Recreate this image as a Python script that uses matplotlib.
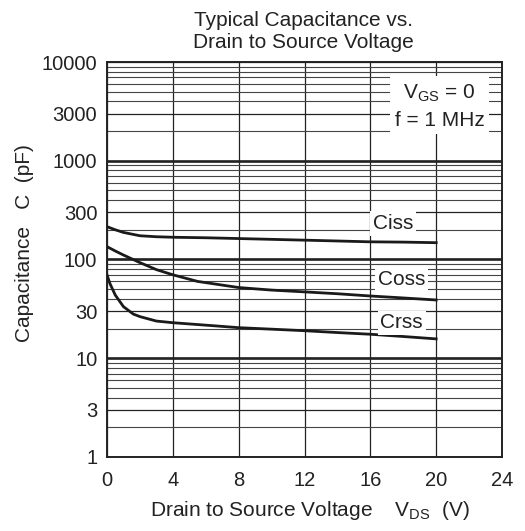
import matplotlib
matplotlib.use('Agg')
from matplotlib import pyplot as plt
from matplotlib.ticker import LogLocator, FixedLocator, NullFormatter

plt.rcParams['font.family'] = ['Liberation Sans', 'DejaVu Sans']
plt.rcParams['mathtext.fontset'] = 'custom'
plt.rcParams['mathtext.rm'] = 'Liberation Sans'

# values (V, pF)
cissV = [0, 0.5, 1, 2, 3, 4, 6, 8, 10, 12, 14, 16, 18, 20]
cissC = [215, 200, 188, 174, 170, 168, 166, 163, 160, 157, 154, 151, 150, 148]

cossV = [0, 0.5, 1, 2, 3, 4, 5.5, 8, 10, 12, 14, 16, 18, 20]
cossC = [135, 122, 111, 93, 79, 70, 60, 52, 49, 47, 45, 42.7, 40.8, 38.9]

crssV = [0, 0.18, 0.5, 1, 1.6, 2, 3, 4, 6.7, 8, 10, 12, 14, 16, 18, 20]
crssC = [70, 57, 43.7, 33.3, 28, 26.4, 23.8, 22.9, 21.2, 20.4, 19.7, 19, 18.2, 17.5, 16.6, 15.7]

xTicks = [0, 4, 8, 12, 16, 20, 24]
yTicks = [1, 3, 10, 30, 100, 300, 1000, 3000, 10000]
yTickLabels = ['1', '3', '10', '30', '100', '300', '1000', '3000', '10000']

txt = '#222222'

fig = plt.figure(figsize=(5.25, 5.31), dpi=100)
ax = fig.add_axes([0.2038, 0.1394, 0.7524, 0.7438])
ax.set_yscale('log')
ax.set_xlim(0, 24)
ax.set_ylim(1, 10000)

# grid
ax.yaxis.set_minor_locator(LogLocator(base=10, subs=range(2, 10), numticks=20))
ax.yaxis.set_minor_formatter(NullFormatter())
ax.yaxis.set_major_locator(FixedLocator(yTicks))
ax.set_yticklabels(yTickLabels)
ax.set_xticks(xTicks)
ax.grid(True, which='minor', axis='y', color='#444444', linewidth=0.8)
ax.grid(True, which='major', axis='both', color='#222222', linewidth=0.9)
for d in [10, 100, 1000]:
    ax.axhline(d, color='#111111', linewidth=1.8, zorder=1)
ax.tick_params(which='both', length=0, labelsize=14.5, colors=txt)
ax.tick_params(axis='y', pad=7)
ax.tick_params(axis='x', pad=10)
for s in ax.spines.values():
    s.set_linewidth(1.4)
    s.set_color('#222222')

ax.plot(cissV, cissC, color='#1a1a1a', linewidth=2.0, zorder=3)
ax.plot(cossV, cossC, color='#1a1a1a', linewidth=2.0, zorder=3)
ax.plot(crssV, crssC, color='#1a1a1a', linewidth=2.0, zorder=3)

box = dict(facecolor='white', edgecolor='none', pad=2)
ax.text(17.4, 232, 'Ciss', fontsize=15, color=txt, ha='center', va='center', bbox=box, zorder=4)
ax.text(17.9, 63, 'Coss', fontsize=15, color=txt, ha='center', va='center', bbox=box, zorder=4)
ax.text(17.9, 22.8, 'Crss', fontsize=15, color=txt, ha='center', va='center', bbox=box, zorder=4)

ax.text(20.2, 3600, 'V$_{\\mathrm{GS}}$ = 0\nf = 1 MHz', fontsize=15, color=txt,
        ha='center', va='center', linespacing=1.45,
        bbox=dict(facecolor='white', edgecolor='none', pad=3), zorder=4)

fig.text(0.590, 0.0395, 'Drain to Source Voltage    V$_{\\mathrm{DS}}$  (V)', fontsize=15,
         color=txt, ha='center', va='center')
fig.text(0.046, 0.542, 'Capacitance   C  (pF)', fontsize=15, color=txt,
         ha='center', va='center', rotation=90)
fig.text(0.578, 0.94, 'Typical Capacitance vs.\nDrain to Source Voltage', fontsize=15,
         color=txt, ha='center', va='center', linespacing=1.2)

fig.savefig('out.png', dpi=100)
